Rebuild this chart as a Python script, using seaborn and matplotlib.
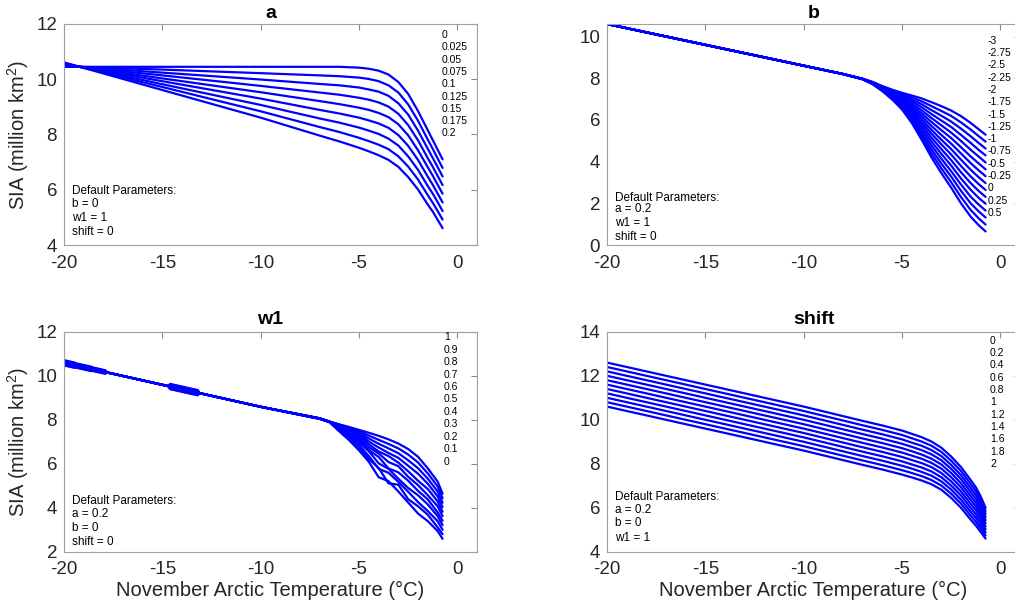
import matplotlib
matplotlib.use("Agg")
import matplotlib.pyplot as plt
import pandas as pd
import seaborn as sns

# ---------------- data ----------------
a_labels = ["0", "0.025", "0.05", "0.075", "0.1", "0.125", "0.15", "0.175", "0.2"]
a_temp = [-20, -19.2, -15, -10, -7, -6, -5, -4.5, -4, -3.5, -3, -2.5, -2, -1.5, -1.25, -1, -0.75]
a_sia = [
    [10.45, 10.45, 10.45, 10.45, 10.45, 10.45, 10.42, 10.38, 10.31, 10.17, 9.90, 9.47, 8.85, 8.15, 7.80, 7.45, 7.10],
    [10.47, 10.45, 10.35, 10.22, 10.14, 10.11, 10.06, 10.01, 9.93, 9.78, 9.52, 9.09, 8.50, 7.81, 7.48, 7.13, 6.79],
    [10.49, 10.45, 10.24, 9.99, 9.83, 9.78, 9.70, 9.63, 9.55, 9.40, 9.13, 8.72, 8.14, 7.48, 7.15, 6.82, 6.48],
    [10.51, 10.45, 10.14, 9.76, 9.52, 9.44, 9.33, 9.26, 9.16, 9.01, 8.75, 8.34, 7.79, 7.14, 6.83, 6.50, 6.17],
    [10.53, 10.45, 10.03, 9.53, 9.21, 9.10, 8.97, 8.89, 8.78, 8.63, 8.37, 7.97, 7.43, 6.81, 6.51, 6.18, 5.86],
    [10.55, 10.45, 9.93, 9.30, 8.89, 8.76, 8.61, 8.51, 8.40, 8.24, 7.98, 7.59, 7.08, 6.47, 6.18, 5.86, 5.54],
    [10.57, 10.45, 9.82, 9.07, 8.58, 8.43, 8.25, 8.14, 8.02, 7.85, 7.60, 7.21, 6.72, 6.13, 5.86, 5.55, 5.23],
    [10.59, 10.45, 9.72, 8.84, 8.27, 8.09, 7.88, 7.76, 7.63, 7.47, 7.21, 6.84, 6.37, 5.80, 5.53, 5.23, 4.92],
    [10.61, 10.45, 9.61, 8.61, 7.96, 7.75, 7.52, 7.39, 7.25, 7.08, 6.83, 6.46, 6.01, 5.46, 5.21, 4.91, 4.61],
]

b_labels = ["-3", "-2.75", "-2.5", "-2.25", "-2", "-1.75", "-1.5", "-1.25", "-1",
            "-0.75", "-0.5", "-0.25", "0", "0.25", "0.5"]
b_temp = [-20, -10, -8, -7, -6.5, -6, -5.5, -5, -4.5, -4, -3.5, -3, -2.5, -2, -1.5, -1.1, -0.75]
b_sia = [
    [10.6, 8.6, 8.2, 7.97, 7.82, 7.62, 7.45, 7.30, 7.17, 7.03, 6.85, 6.66, 6.45, 6.18, 5.85, 5.55, 5.29],
    [10.6, 8.6, 8.2, 7.97, 7.81, 7.60, 7.42, 7.24, 7.08, 6.89, 6.66, 6.43, 6.19, 5.88, 5.53, 5.22, 4.96],
    [10.6, 8.6, 8.2, 7.97, 7.81, 7.59, 7.38, 7.19, 6.98, 6.75, 6.47, 6.20, 5.92, 5.58, 5.21, 4.89, 4.63],
    [10.6, 8.6, 8.2, 7.97, 7.80, 7.57, 7.35, 7.13, 6.89, 6.61, 6.28, 5.97, 5.66, 5.28, 4.89, 4.56, 4.30],
    [10.6, 8.6, 8.2, 7.96, 7.79, 7.55, 7.32, 7.07, 6.79, 6.46, 6.09, 5.74, 5.39, 4.99, 4.56, 4.24, 3.96],
    [10.6, 8.6, 8.2, 7.96, 7.78, 7.53, 7.28, 7.01, 6.70, 6.32, 5.90, 5.51, 5.13, 4.69, 4.24, 3.91, 3.63],
    [10.6, 8.6, 8.2, 7.96, 7.78, 7.52, 7.25, 6.96, 6.60, 6.18, 5.71, 5.28, 4.86, 4.39, 3.92, 3.58, 3.30],
    [10.6, 8.6, 8.2, 7.96, 7.77, 7.50, 7.21, 6.90, 6.51, 6.04, 5.52, 5.05, 4.60, 4.09, 3.60, 3.25, 2.97],
    [10.6, 8.6, 8.2, 7.96, 7.76, 7.48, 7.18, 6.84, 6.42, 5.90, 5.34, 4.83, 4.34, 3.79, 3.28, 2.92, 2.64],
    [10.6, 8.6, 8.2, 7.96, 7.76, 7.47, 7.15, 6.79, 6.32, 5.76, 5.15, 4.60, 4.07, 3.49, 2.96, 2.59, 2.31],
    [10.6, 8.6, 8.2, 7.96, 7.75, 7.45, 7.11, 6.73, 6.23, 5.62, 4.96, 4.37, 3.81, 3.19, 2.64, 2.26, 1.98],
    [10.6, 8.6, 8.2, 7.95, 7.74, 7.43, 7.08, 6.67, 6.13, 5.47, 4.77, 4.14, 3.54, 2.90, 2.31, 1.94, 1.65],
    [10.6, 8.6, 8.2, 7.95, 7.73, 7.41, 7.05, 6.61, 6.04, 5.33, 4.58, 3.91, 3.28, 2.60, 1.99, 1.61, 1.32],
    [10.6, 8.6, 8.2, 7.95, 7.73, 7.40, 7.01, 6.56, 5.94, 5.19, 4.39, 3.68, 3.01, 2.30, 1.67, 1.28, 0.98],
    [10.6, 8.6, 8.2, 7.95, 7.72, 7.38, 6.98, 6.50, 5.85, 5.05, 4.20, 3.45, 2.75, 2.00, 1.35, 0.95, 0.65],
]

w1_labels = ["1", "0.9", "0.8", "0.7", "0.6", "0.5", "0.4", "0.3", "0.2", "0.1", "0"]
w1_temp = [-20, -19.45, -19.4, -18.6, -18.5, -17.9, -17.8, -14.7, -14.6, -13.2, -13.1, -10,
           -7, -6.5, -6, -5.5, -5, -4.5, -4, -3.5, -3, -2.5, -2, -1.5, -1, -0.75]
w1_sia = [
    [10.60, 10.49, 10.48, 10.32, 10.30, 10.18, 10.16, 9.54, 9.52, 9.24, 9.22, 8.6,
     8.08, 7.93, 7.80, 7.68, 7.55, 7.42, 7.28, 7.12, 6.93, 6.68, 6.33, 5.80, 5.20, 4.65],
    [10.70, 10.59, 10.56, 10.40, 10.36, 10.24, 10.16, 9.54, 9.62, 9.34, 9.22, 8.6,
     8.08, 7.93, 7.79, 7.65, 7.50, 7.29, 7.10, 6.91, 6.71, 6.43, 6.07, 5.57, 4.98, 4.45],
    [10.52, 10.41, 10.42, 10.26, 10.25, 10.13, 10.16, 9.54, 9.44, 9.16, 9.22, 8.6,
     8.07, 7.92, 7.77, 7.61, 7.44, 7.16, 6.92, 6.71, 6.49, 6.17, 5.81, 5.33, 4.75, 4.24],
    [10.65, 10.54, 10.58, 10.42, 10.38, 10.26, 10.16, 9.54, 9.57, 9.29, 9.22, 8.6,
     8.07, 7.92, 7.76, 7.58, 7.39, 7.02, 6.75, 6.50, 6.28, 5.92, 5.56, 5.10, 4.53, 4.04],
    [10.50, 10.39, 10.40, 10.24, 10.24, 10.12, 10.16, 9.54, 9.42, 9.14, 9.22, 8.6,
     8.07, 7.92, 7.74, 7.55, 7.33, 6.89, 6.57, 6.36, 6.06, 5.67, 5.24, 4.86, 4.30, 3.83],
    [10.68, 10.57, 10.44, 10.28, 10.34, 10.22, 10.16, 9.54, 9.64, 9.36, 9.22, 8.6,
     8.07, 7.92, 7.73, 7.52, 7.22, 6.76, 6.48, 6.09, 5.90, 5.42, 5.04, 4.58, 4.08, 3.63],
    [10.55, 10.44, 10.54, 10.38, 10.22, 10.10, 10.16, 9.54, 9.47, 9.19, 9.22, 8.6,
     8.06, 7.91, 7.71, 7.42, 7.12, 6.63, 6.32, 5.80, 5.62, 5.24, 4.78, 4.39, 3.80, 3.42],
    [10.72, 10.61, 10.50, 10.34, 10.33, 10.21, 10.16, 9.54, 9.60, 9.32, 9.22, 8.6,
     8.06, 7.91, 7.70, 7.36, 7.00, 6.58, 6.03, 5.78, 5.33, 4.91, 4.58, 4.16, 3.63, 3.22],
    [10.48, 10.37, 10.38, 10.22, 10.26, 10.14, 10.16, 9.54, 9.40, 9.12, 9.22, 8.6,
     8.06, 7.91, 7.62, 7.28, 6.88, 6.36, 5.78, 5.60, 5.19, 4.74, 4.27, 3.86, 3.40, 3.01],
    [10.63, 10.52, 10.53, 10.37, 10.28, 10.16, 10.16, 9.54, 9.55, 9.27, 9.22, 8.6,
     8.05, 7.90, 7.55, 7.18, 6.75, 6.23, 5.82, 5.12, 5.06, 4.40, 4.08, 3.69, 3.12, 2.81],
    [10.57, 10.46, 10.46, 10.30, 10.36, 10.24, 10.16, 9.54, 9.48, 9.20, 9.22, 8.6,
     8.05, 7.90, 7.48, 7.08, 6.62, 6.10, 5.40, 5.22, 4.75, 4.25, 3.75, 3.40, 2.95, 2.60],
]

shift_labels = ["0", "0.2", "0.4", "0.6", "0.8", "1", "1.2", "1.4", "1.6", "1.8", "2"]
shift_temp = [-20, -19.2, -15, -10, -7, -6, -5, -4.5, -4, -3.5, -3, -2.5, -2, -1.5, -1.25, -1, -0.75]
shift_sia = [
    [10.61, 10.45, 9.61, 8.61, 7.96, 7.75, 7.52, 7.39, 7.25, 7.08, 6.83, 6.46, 6.01, 5.46, 5.21, 4.91, 4.61],
    [10.81, 10.65, 9.81, 8.81, 8.16, 7.95, 7.72, 7.59, 7.45, 7.27, 7.02, 6.65, 6.20, 5.64, 5.38, 5.07, 4.75],
    [11.01, 10.85, 10.01, 9.01, 8.36, 8.15, 7.92, 7.79, 7.64, 7.47, 7.21, 6.84, 6.38, 5.82, 5.56, 5.23, 4.89],
    [11.21, 11.05, 10.21, 9.21, 8.56, 8.35, 8.12, 7.98, 7.84, 7.66, 7.40, 7.02, 6.57, 6.00, 5.73, 5.40, 5.03],
    [11.41, 11.25, 10.41, 9.41, 8.76, 8.55, 8.32, 8.18, 8.04, 7.86, 7.59, 7.21, 6.75, 6.18, 5.91, 5.56, 5.17],
    [11.61, 11.45, 10.61, 9.61, 8.96, 8.75, 8.52, 8.38, 8.24, 8.05, 7.79, 7.40, 6.94, 6.36, 6.08, 5.72, 5.31],
    [11.81, 11.65, 10.81, 9.81, 9.16, 8.95, 8.72, 8.58, 8.43, 8.24, 7.98, 7.59, 7.12, 6.54, 6.25, 5.88, 5.45],
    [12.01, 11.85, 11.01, 10.01, 9.36, 9.15, 8.92, 8.78, 8.63, 8.44, 8.17, 7.78, 7.31, 6.72, 6.43, 6.04, 5.59],
    [12.21, 12.05, 11.21, 10.21, 9.56, 9.35, 9.12, 8.97, 8.83, 8.63, 8.36, 7.96, 7.49, 6.90, 6.60, 6.21, 5.73],
    [12.41, 12.25, 11.41, 10.41, 9.76, 9.55, 9.32, 9.17, 9.02, 8.83, 8.55, 8.15, 7.68, 7.08, 6.78, 6.37, 5.87],
    [12.61, 12.45, 11.61, 10.61, 9.96, 9.75, 9.52, 9.37, 9.22, 9.02, 8.74, 8.34, 7.86, 7.26, 6.95, 6.53, 6.01],
]

x_ticks = [-20, -15, -10, -5, 0]
a_yticks = [4, 6, 8, 10, 12]
b_yticks = [0, 2, 4, 6, 8, 10]
w1_yticks = [2, 4, 6, 8, 10, 12]
shift_yticks = [4, 6, 8, 10, 12, 14]

a_defaults = ["Default Parameters:", "b = 0", "w1 = 1", "shift = 0"]
b_defaults = ["Default Parameters:", "a = 0.2", "w1 = 1", "shift = 0"]
w1_defaults = ["Default Parameters:", "a = 0.2", "b = 0", "shift = 0"]
shift_defaults = ["Default Parameters:", "a = 0.2", "b = 0", "w1 = 1"]

# ---------------- style ----------------
sns.set_style("white")
plt.rcParams["font.family"] = ["Liberation Sans", "DejaVu Sans"]
plt.rcParams["axes.unicode_minus"] = False
plt.rcParams["mathtext.fontset"] = "custom"
plt.rcParams["mathtext.rm"] = "Liberation Sans"
plt.rcParams["mathtext.it"] = "Liberation Sans:italic"

W, H = 1015, 611
fig = plt.figure(figsize=(W / 100, H / 100), dpi=100)


def frame(temp, rows, labels):
    recs = []
    for lab, row in zip(labels, rows):
        for t, v in zip(temp, row):
            recs.append((lab, t, v))
    return pd.DataFrame(recs, columns=["param", "T", "SIA"])


def panel(rect, temp, rows, labels, ylim, yticks, title, title_pad, xpad):
    ax = fig.add_axes(rect)
    df = frame(temp, rows, labels)
    sns.lineplot(data=df, x="T", y="SIA", hue="param", hue_order=labels,
                 palette=["#0000ff"] * len(labels), estimator=None, sort=False,
                 legend=False, linewidth=1.6, ax=ax)
    ax.set_xlim(-20, 1)
    ax.set_ylim(*ylim)
    ax.set_xticks(x_ticks)
    ax.set_yticks(yticks)
    ax.tick_params(direction="in", top=True, right=True, length=4, width=0.8,
                   color="#8a8a8a", labelsize=13.5, labelcolor="#262626", pad=5)
    ax.tick_params(axis="x", pad=xpad)
    for s in ax.spines.values():
        s.set_color("#a0a0a0")
        s.set_linewidth(0.8)
        s.set_visible(True)
    ax.set_xlabel("")
    ax.set_ylabel("")
    ax.set_title(title, fontsize=14, fontweight="bold", pad=title_pad, color="black")
    return ax


def fx(px):
    return px / W


def fy(py):
    return 1 - py / H


def column(x, y0, dy, texts, size):
    for i, t in enumerate(texts):
        fig.text(fx(x), fy(y0 + i * dy), t, fontsize=size, va="center", ha="left",
                 color="black")


ax_a = panel([fx(64), fy(245), 413 / W, 221 / H], a_temp, a_sia, a_labels,
             (4, 12), a_yticks, "a", 4, 7.5)
ax_b = panel([fx(607), fy(245), 413 / W, 221 / H], b_temp, b_sia, b_labels,
             (0, 10.6), b_yticks, "b", 4, 7.5)
ax_w = panel([fx(64), fy(552), 413 / W, 220 / H], w1_temp, w1_sia, w1_labels,
             (2, 12), w1_yticks, "w1", 6, 6.5)
ax_s = panel([fx(607), fy(552), 413 / W, 220 / H], shift_temp, shift_sia, shift_labels,
             (4, 14), shift_yticks, "shift", 6, 6.5)

ylab = r"SIA (million km$^\mathrm{2}$)"
for ax in (ax_a, ax_w):
    ax.set_ylabel(ylab, fontsize=14.5, color="#262626", labelpad=4)
for ax in (ax_w, ax_s):
    ax.set_xlabel("November Arctic Temperature (°C)", fontsize=14.5, color="#262626",
                  labelpad=2)

# parameter value columns
column(442, 35, 12.3, a_labels, 7.5)
column(988, 40.7, 12.3, b_labels, 7.5)
column(444, 337.3, 12.44, w1_labels, 7.5)
column(990, 340.7, 12.33, shift_labels, 7.5)

# default parameter notes
for x, ys, texts in [
    (72, [190.7, 204, 218.3, 232.3], a_defaults),
    (615, [198, 208.7, 222.7, 237], b_defaults),
    (72, [501.3, 513.7, 528, 542], w1_defaults),
    (615, [497, 509.7, 523.3, 537.7], shift_defaults),
]:
    for y, t in zip(ys, texts):
        fig.text(fx(x), fy(y), t, fontsize=8.5, va="center", ha="left", color="black")

fig.savefig("out.png", dpi=100)
